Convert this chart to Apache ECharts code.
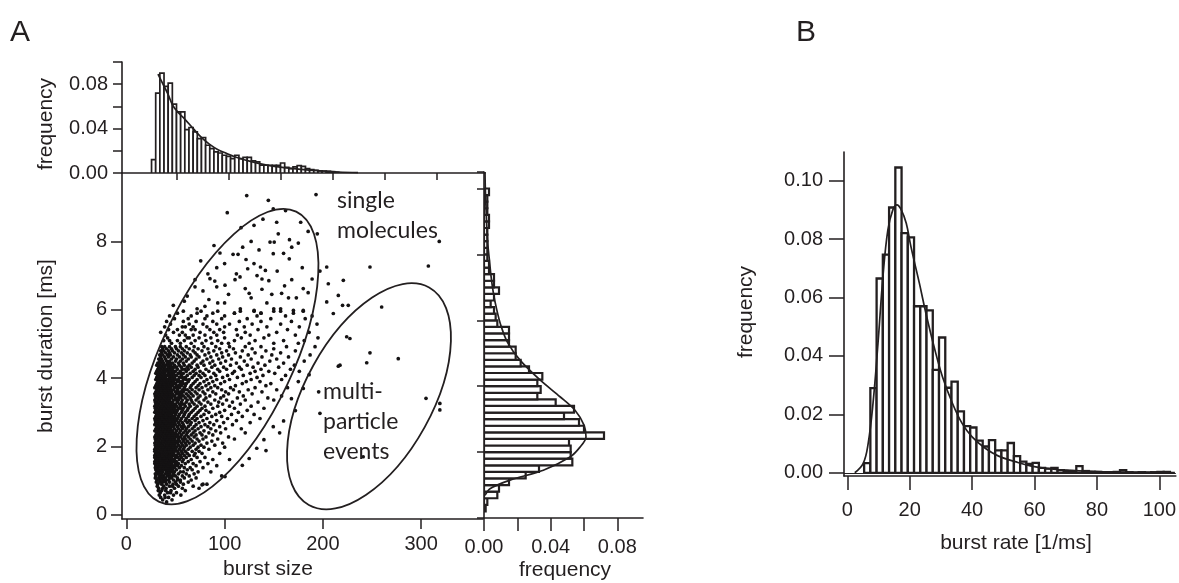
<!DOCTYPE html>
<html><head><meta charset="utf-8">
<script src="https://cdn.jsdelivr.net/npm/echarts@6/dist/echarts.min.js"></script>
<style>html,body{margin:0;padding:0;background:#fff}#c{width:1179px;height:583px}</style>
</head><body><div id="c"></div><script>
// ---------- DATA ----------
// Panel A, top: burst size histogram (bin centers, width 4)
const sizeBinCenters = [28,32,36,40,44,48,52,56,60,64,68,72,76,80,84,88,92,96,100,104,108,112,116,120,124,128,132,136,140,144,148,152,156,160,164,168,172,176,180,184,188,192,196,200,204];
const sizeBinWidth = 4;
const sizeFreq = [0.012,0.072,0.090,0.078,0.081,0.062,0.055,0.055,0.039,0.041,0.037,0.031,0.032,0.025,0.022,0.019,0.018,0.016,0.015,0.013,0.016,0.013,0.014,0.014,0.011,0.010,0.007,0.007,0.007,0.007,0.007,0.009,0.005,0.004,0.0055,0.0066,0.006,0.004,0.003,0.0025,0.002,0.0018,0.0015,0.0012,0.0006];
const sizeFit = [[32.2,0.0891],[37,0.0801],[41.8,0.0711],[46.6,0.0606],[53,0.0531],[57.9,0.0486],[65.9,0.0402],[73.9,0.0321],[81.9,0.0258],[89.9,0.021],[97.9,0.0177],[105.9,0.0147],[121.9,0.0102],[138,0.0069],[154,0.0048],[170,0.0033],[186,0.0021],[205.3,0.0009],[224.5,0.0003]];

// Panel A, right: burst duration histogram (bin centers in ms, width 0.2)
const durBinCenters = [0.3,0.5,0.7,0.9,1.1,1.3,1.5,1.7,1.9,2.1,2.3,2.5,2.7,2.9,3.1,3.3,3.5,3.7,3.9,4.1,4.3,4.5,4.7,4.9,5.1,5.3,5.5,5.7,5.9,6.1,6.3,6.5,6.7,6.9,7.1,7.3,7.5,7.7,7.9,8.1,8.3,8.5,8.7,8.9,9.1,9.3,9.5,9.7,9.9];
const durBinWidth = 0.2;
const durFreq = [0.001,0.002,0.008,0.009,0.015,0.025,0.033,0.053,0.052,0.052,0.051,0.072,0.060,0.057,0.048,0.054,0.043,0.032,0.034,0.032,0.035,0.027,0.022,0.019,0.019,0.015,0.015,0.015,0.008,0.007,0.006,0.004,0.006,0.009,0.006,0.006,0.003,0.003,0.002,0.002,0.002,0.002,0.002,0.003,0.003,0.002,0.002,0.002,0.003];
const durFit = [[0.0006,0.69],[0.0036,0.89],[0.0156,1.15],[0.0356,1.45],[0.0516,1.85],[0.0576,2.15],[0.0612,2.46],[0.060,2.82],[0.0546,3.27],[0.0456,3.68],[0.0336,4.19],[0.0216,4.79],[0.0142,5.32],[0.0102,5.83],[0.0076,6.33],[0.0056,6.84],[0.0042,7.35],[0.0032,7.85],[0.0022,8.36],[0.0014,9.17],[0.0008,9.98],[0.0006,10.5]];

// Panel B: burst rate histogram (bin centers, width 2)
const rateBinCenters = [6.4,8.4,10.4,12.4,14.4,16.4,18.4,20.4,22.4,24.4,26.4,28.4,30.4,32.4,34.4,36.4,38.4,40.4,42.4,44.4,46.4,48.4,50.4,52.4,54.4,56.4,58.4,60.4,62.4,64.4,66.4,68.4,70.4,72.4,74.4,76.4,78.4,80.4,82.4,84.4,86.4,88.4,90.4,92.4,94.4,96.4,98.4,100.4,102.4];
const rateBinWidth = 2;
const rateFreq = [0.0033,0.029,0.0665,0.0747,0.0908,0.1045,0.082,0.0806,0.057,0.057,0.0556,0.0352,0.0463,0.0291,0.0312,0.021,0.016,0.0155,0.011,0.009,0.0112,0.0077,0.0077,0.0102,0.0057,0.0038,0.003,0.0034,0.0017,0.0014,0.0017,0.0009,0.0006,0.0005,0.0023,0.0006,0.0003,0.0003,0.0002,0.0002,0.0003,0.0009,0.0002,0.0001,0.0002,0.0001,0.0002,0.0003,0.0003];
const rateFit = [[2.4,0],[5.1,0.0032],[6.7,0.0101],[8.25,0.0238],[9.84,0.0443],[11.43,0.0671],[13,0.0831],[14.6,0.09],[15.9,0.0917],[17.3,0.09],[18.9,0.0854],[20.4,0.0774],[23.1,0.0649],[25.2,0.0546],[27.8,0.0432],[30.5,0.0329],[33.7,0.0238],[36.8,0.0169],[40,0.0123],[44.2,0.0084],[48.5,0.0057],[53.8,0.0038],[59,0.0023],[65.4,0.0013],[72,0.0008],[80,0.0004],[90,0.0002],[105,0.0001]];

// Panel A scatter: rows of [burst duration, burst sizes...]
const scatterRows = [
[0.38,41],[0.44,37,46.5],[0.51,35,43,39.5],[0.58,39,48,55.5,33.5],[0.65,34.5,42,51,45],[0.71,36,45.5,60,40,32.5],
[0.78,33,40.5,49,57,74,37],[0.84,38,44,53,68,31.5,47],[0.9,32,36,47.5,58,78,41,51],[0.96,34,40,50,63,30.5,44,37,55],
[1.02,31,37,43,48,55,66,34,40,52],[1.08,33,35.5,40,46,52,59,71,29.5,38,44],[1.14,30,34,38,42,45,50,57,64,97,36,47],
[1.2,32,36,39.5,44,48,53,61,69,29.5,41,34],[1.26,31,33,37,41,46,49,55,58,73,86,35,43.5],[1.32,30,34.5,36,40,43,47,51,62,67,32,38,45],
[1.38,32,35,38,42,45,49,54,59,65,78,29.5,40.5,47],[1.44,30,33,37,40,44,47,52,56,71,92,35,42,49.5],[1.5,31,34,36,39,42,46,50,53,60,68,83,29,44,38],
[1.56,29,33,35,38,41,44,48,51,57,63,75,31,46,40],[1.62,30,32,36,39,43,45,49,54,58,66,88,105,34,41,47],[1.68,31,34,37,40,42,46,50,52.5,56,61,72,80,29,44,38.5],
[1.74,29,32,35,38,41,44,47,51,55,59,64,69,33,36.5,49],[1.8,30,33,36,39,43,45,48,53,57,62,70,77,95,31.5,41,46.5],[1.86,31,34,37,40,42,46,49,52,56,60,67,74,29,35.5,44],
[1.92,29,32,35,38,41,44,47,50,54,58,63,71,84,30.5,39.5,45.5],[1.98,30,33,36,39,42,45,48,51,55,59,65,73,79,100,31.5,37.5,43.5],[2.04,31,34,37,40,43,46,49,53,57,61,68,76,90,29.5,35.5,41.5,47.5],
[2.1,29,32,35,38,41,44,47,50,52,56,60,64,70,82,98,33.5,45.5],[2.16,30,33,36,39,42,45,48,51,54,58,62,67,74,87,31.5,37.5,43.5],[2.22,31,34,37,40,43,46,49,53,57,60,65,72,78,93,110,29.5,41.5,47.5],
[2.28,29,32,35,38,41,44,47,50,55,59,63,69,81,104,33.5,39.5,52.5],[2.34,30,33,36,39,42,45,48,52,56,61,66,71,77,88,31.5,43.5,50],[2.4,31,34,37,40,43,46,50,54,58,62,68,75,84,96,121,35.5,41.5,47.5],
[2.46,29,32,35,38,41,44,47,51,55,60,64,70,79,91,30.5,39.5,45.5],[2.52,30,33,36,39,42,45,49,53,57,61,67,73,86,101,117,31.5,37.5,43.5],[2.58,31,34,37,40,43,46,48,52,56,59,63,69,76,83,95,32.5,44.5],
[2.64,29,32,35,38,41,44,47,50,54,58,65,71,80,89,108,30.5,36.5,42.5],[2.7,30,33,36,39,42,45,49,53,57,62,66,74,85,99,126,34.5,40.5,47],[2.76,31,34,37,40,43,46,48,51,55,60,64,70,78,92,112,29.5,38.5,44.5],
[2.82,29,32,35,38,41,44,47,52,56,61,67,72,82,103,136,30.5,36.5,49.5],[2.88,30,33,36,39,42,45,49,53,58,63,69,76,87,97,118,31.5,40.5,47],[2.94,31,34,37,40,43,46,50,54,59,64,71,79,91,107,130,35.5,44.5],
[3.0,29,32,35,38,41,44,48,51,56,60,66,73,84,95,114,30.5,37.5,46],[3.06,30,33,36,39,42,45,47,52,57,62,68,75,81,100,123,34.5,40.5,49.5],[3.12,31,34,37,40,43,46,49,53,58,63,70,77,88,110,140,29.5,38.5,55],
[3.18,29,32,35,38,41,44,48,51,55,60,65,72,80,93,105,127,36.5,46.5],[3.24,30,33,36,39,42,45,50,54,59,64,69,76,86,98,116,31.5,47.5,57],[3.3,31,34,37,40,43,47,52,56,61,67,74,83,94,108,134,29.5,38.5,44.5],
[3.36,29,32,35,38,41,44,48,53,57,62,66,71,79,90,102,121,150,36.5,50.5],[3.42,30,33,36,39,42,46,50,55,60,65,73,81,96,113,144,34.5,44,52.5],[3.48,31,34,37,40,43,45,49,54,58,63,68,75,85,99,119,158,29.5,47,56],
[3.54,29,32,35,38,41,44,47,51,56,61,66,72,80,91,104,128,36.5,53],[3.6,30,33,36,39,42,46,50,53,58,64,70,78,88,101,115,138,44,55.5],[3.66,31,34,37,40,43,48,52,57,62,67,74,83,97,109,124,153,35.5,45.5,59.5],
[3.72,29,32,35,38,41,45,49,54,59,65,71,77,86,93,106,131,164,43,51.5],[3.78,30,33,36,39,42,44,47,51,56,60,66,73,81,90,111,142,34.5,53.5],[3.84,31,34,37,40,43,46,50,55,61,68,75,84,96,118,147,38.5,48,58],
[3.9,32,35,38,41,45,48,52,57,63,70,79,88,100,122,136,43,54.5],[3.96,30,33,36,39,42,47,53,58,64,72,82,92,105,127,158,44.5,50,61],[4.02,31,34,37,40,44,49,54,60,67,76,86,98,113,133,46.5,57],
[4.08,32,35,38,41,46,51,56,62,69,74,80,91,103,119,139,162,43.5,48.5],[4.14,30,33,36,39,43,48,53,58,65,71,78,89,108,126,151,45.5,55.5],[4.2,31,34,37,42,45,50,55,61,68,75,84,95,110,131,145,176,39.5,47.5],
[4.26,32,35,38,41,44,47,52,57,63,70,81,93,102,117,137,167,59.5],[4.32,33,36,39,43,46,51,56,62,66,73,87,99,115,129,155,48.5],[4.38,31,34,37,40,45,49,54,59,64,72,79,90,106,123,141,171,42.5],
[4.44,32,35,38,42,47,53,58,67,76,85,96,112,134,160,44.5],[4.5,34,37,41,44,50,55,61,69,78,88,101,120,146,181],[4.56,33,36,40,46,51,57,63,71,82,94,107,127,153],
[4.62,35,39,43,48,54,60,66,74,86,98,116,138,165],[4.68,34,37,42,45,52,58,65,72,80,92,104,124,148,187],[4.74,36,40,44,49,56,62,70,84,97,111,131,157],
[4.8,35,38,43,47,53,59,68,77,89,102,118,142,172],[4.86,37,41,46,51,57,64,73,83,95,109,128,150],[4.92,36,39,44,50,55,61,69,79,91,105,121,137,163,192],
[5.02,46,77,97,104,125,150,175,55,66,87],[5.1,38,52,59,70,81,93,110,131,160,181,44],[5.18,42,62,74,86,100,117,140,64,195],
[5.26,40,54,68,80,92,113,126,145,172,60],[5.34,48,57,75,89,99,121,153,186,35],[5.42,43,52,70,85,95,112,134,164,66],
[5.5,39,57,68,82,100,120,143,176,60],[5.58,45,64,78,92,105,128,157,194],[5.66,41,58,71,88,115,137,168],
[5.74,49,63,80,97,123,147,182],[5.82,44,66,82,100,133,162,189],[5.9,52,72,88,110,137,170],[5.96,58,76,93,116,130,150,157,180]
];
const scatterExtra = [
[122.5,9.34],[144.5,9.2],[193,9.37],[102.7,8.84],[149.5,8.95],[153,8.56],[177.4,8.56],[185,8.29],[194.3,8.22],[154.6,8.22],[129.9,8.47],[116.7,8.4],
[146.2,7.98],[150.5,7.98],[166,8.05],[168.3,7.83],[118.4,7.83],[89.2,7.88],[95.3,7.66],[108.6,7.62],[113.7,7.62],[149.5,7.64],[75.7,7.43],[92,7.23],
[121.8,7.47],[129.9,7.35],[165.8,7.49],[179,7.23],[123.5,7.2],[136.5,7.25],[141.5,7.15],[153.5,7.13],[203.9,7.25],[247.9,7.25],[307.3,7.28],[318.4,8.0],
[69.9,6.88],[85.1,6.91],[90,6.84],[100.4,6.72],[110.6,6.88],[115.7,6.96],[133,7.0],[138,6.9],[145,6.85],[168.3,6.88],[197,7.13],[205.5,6.76],[220.8,6.86],
[121,6.62],[125,6.48],[127,6.35],[180,6.62],[92,6.67],[69.9,6.67],[148,6.45],[158,6.48],[165,6.35],[173,6.35],[215.7,6.42],[185,6.5],[203.9,6.23],
[220,6.13],[225.8,6.13],[259.8,6.08],[47.8,6.13],[72,6.03],[80,6.1],[93,6.2],[100,6.2],[110,5.9],[116,6.03],[130,5.98],[137,5.9],[150,6.03],[157,6.03],
[170,5.98],[180,5.98],[210.6,5.89],[62,6.4],[78,6.55],[104,6.45],[138,6.6],[112,7.05],[59,6.25],[84,6.3],[143,6.2],[161,6.7],[189,6.9],[100,7.35],
[83,7.05],[160,7.65],[135,7.75],[127,8.0],[175,7.95],[139,8.65],[162,8.9],
[195.7,3.6],[197,2.97],[241,1.7],[304.9,3.41],[319,3.26],[319,3.07],[224.2,5.21],[227.5,5.16],[247.9,4.74],[276.7,4.57],[217.4,4.38],[244.6,4.45],
[215.7,4.35],[132.7,1.95],[142.1,1.88],[100.4,1.12],[149.5,2.58],[168,3.4],[175,3.9],[180,3.7],[186,4.1],[172,3.05],[160,2.75],[156,2.4],[140,2.2],
[125,1.65],[118,1.45],[82,0.9],[77,0.88]
];
// Ellipses in data units: centre, tip of one semi-axis, tip of the other
const ellipseSingle = [[102.9,4.63],[172.8,8.87],[163.7,3.81]];
const ellipseMulti = [[246.9,3.47],[308.1,6.65],[303.6,2.57]];

// Tick values
const sizeTicks = [0,100,200,300];
const sizeTopTicks = [50,100,150,200,250,300];
const durTicks = [0,2,4,6,8];
const rateTicks = [0,20,40,60,80,100];
const rateFreqTicks = [0,0.02,0.04,0.06,0.08,0.10];

// ---------- CHART ----------
const INK = '#231f20';
const FONT = '"Liberation Sans", Arial, Helvetica, sans-serif';
const chart = echarts.init(document.getElementById('c'), null, {renderer:'canvas'});

const scatterPts = [];
scatterRows.forEach(r => { for (let i = 1; i < r.length; i++) scatterPts.push([r[i], r[0]]); });
scatterExtra.forEach(p => scatterPts.push(p));

function histSeries(xi, yi, centers, w, freqs, horizontal, lw) {
  return {
    type:'custom', xAxisIndex:xi, yAxisIndex:yi, clip:true, silent:true,
    data: centers.map((c,i)=>[c, w, freqs[i]]),
    renderItem: function(params, api){
      const c = api.value(0), ww = api.value(1), f = api.value(2);
      let p0, p1;
      if (!horizontal) { p0 = api.coord([c-ww/2, 0]); p1 = api.coord([c+ww/2, f]); }
      else { p0 = api.coord([0, c-ww/2]); p1 = api.coord([f, c+ww/2]); }
      return {type:'rect', shape:{x:Math.min(p0[0],p1[0]), y:Math.min(p0[1],p1[1]), width:Math.abs(p1[0]-p0[0]), height:Math.abs(p1[1]-p0[1])},
        style:{fill:'#fff', stroke:INK, lineWidth:lw}};
    }
  };
}
function lineSeries(xi, yi, data, extra) {
  return Object.assign({type:'line', xAxisIndex:xi, yAxisIndex:yi, data:data, symbol:'none', smooth:0.4, silent:true,
    lineStyle:{color:INK, width:1.7}, z:5}, extra||{});
}
const axLine = {show:true, onZero:false, lineStyle:{color:INK, width:1.6}};
const lbl = {color:INK, fontFamily:FONT, fontSize:20};

const option = {
  animation:false,
  backgroundColor:'#fff',
  grid:[
    {left:122, top:62, width:363, height:111},
    {left:122, top:173, width:361, height:346},
    {left:484, top:172, width:159, height:346},
    {left:844, top:152, width:335, height:324}
  ],
  xAxis:[
    {gridIndex:0, type:'value', min:-2.4, max:346.6, axisLine:axLine, splitLine:{show:false},
      axisTick:{show:true, length:7, customValues:sizeTopTicks, lineStyle:{color:INK,width:1.5}}, axisLabel:{show:false}},
    {gridIndex:1, type:'value', min:-4.4, max:362.9, axisLine:axLine, splitLine:{show:false},
      axisTick:{show:true, length:10, customValues:sizeTicks, lineStyle:{color:INK,width:1.5}},
      axisLabel:Object.assign({customValues:sizeTicks, margin:15}, lbl)},
    {gridIndex:2, type:'value', min:0, max:0.0954, interval:0.02, axisLine:axLine, splitLine:{show:false},
      axisTick:{show:true, length:13, lineStyle:{color:INK,width:1.5}},
      axisLabel:Object.assign({margin:19, showMaxLabel:false, formatter:v => (Math.round(v*100)%4===0 ? v.toFixed(2) : '')}, lbl)},
    {gridIndex:3, type:'value', min:-1.05, max:105.3, axisLine:axLine, splitLine:{show:false},
      axisTick:{show:true, length:14, customValues:rateTicks, lineStyle:{color:INK,width:1.5}},
      axisLabel:Object.assign({customValues:rateTicks, margin:24}, lbl)}
  ],
  yAxis:[
    {gridIndex:0, type:'value', min:0, max:0.1, interval:0.02, axisLine:axLine, splitLine:{show:false},
      axisTick:{show:true, length:9, lineStyle:{color:INK,width:1.5}},
      axisLabel:Object.assign({margin:14, formatter:v => (Math.round(v*100)%4===0 && v<0.09 ? v.toFixed(2) : '')}, lbl)},
    {gridIndex:1, type:'value', min:-0.12, max:10, axisLine:axLine, splitLine:{show:false},
      axisTick:{show:true, length:11, customValues:durTicks, lineStyle:{color:INK,width:1.5}},
      axisLabel:Object.assign({customValues:durTicks, margin:15}, lbl)},
    {gridIndex:2, type:'value', min:0, max:10.5, interval:2, axisLine:axLine, splitLine:{show:false},
      axisTick:{show:true, length:7, lineStyle:{color:INK,width:1.5}}, axisLabel:{show:false}},
    {gridIndex:3, type:'value', min:-0.0011, max:0.1098, axisLine:axLine, splitLine:{show:false},
      axisTick:{show:true, length:15, customValues:rateFreqTicks, lineStyle:{color:INK,width:1.5}},
      axisLabel:Object.assign({customValues:rateFreqTicks, margin:21, formatter:v => v.toFixed(2)}, lbl)}
  ],
  series:[
    histSeries(0,0,sizeBinCenters,sizeBinWidth,sizeFreq,false,1.7),
    lineSeries(0,0,sizeFit),
    {type:'scatter', xAxisIndex:1, yAxisIndex:1, data:scatterPts, symbol:'circle', symbolSize:3.7, silent:true,
      itemStyle:{color:'#141213', opacity:1}, large:false},
    histSeries(2,2,durBinCenters,durBinWidth,durFreq,true,2.2),
    lineSeries(2,2,durFit,{smooth:0.3}),
    Object.assign(histSeries(3,3,rateBinCenters,rateBinWidth,rateFreq,false,2.3),
      {markLine:{silent:true, symbol:'none', label:{show:false}, lineStyle:{color:INK, width:1, type:'solid'}, data:[{yAxis:0}]}}),
    lineSeries(3,3,rateFit)
  ]
};
chart.setOption(option);

function txt(t, x, y, size, opts) {
  return Object.assign({type:'text', x:x, y:y, z:20, silent:true,
    style:Object.assign({text:t, fill:INK, font:size+'px '+FONT, textAlign:'center', textVerticalAlign:'middle', align:'center', verticalAlign:'middle'}, (opts&&opts.style)||{})},
    opts && opts.rotation ? {rotation:opts.rotation} : {});
}
function ell(def) {
  const c = chart.convertToPixel({xAxisIndex:1, yAxisIndex:1}, def[0]);
  const a = chart.convertToPixel({xAxisIndex:1, yAxisIndex:1}, def[1]);
  const b = chart.convertToPixel({xAxisIndex:1, yAxisIndex:1}, def[2]);
  const ax = a[0]-c[0], ay = a[1]-c[1];
  const rx = Math.hypot(ax, ay), ry = Math.hypot(b[0]-c[0], b[1]-c[1]);
  return {type:'ellipse', x:c[0], y:c[1], rotation:Math.atan2(-ay, ax), silent:true, z:15,
    shape:{cx:0, cy:0, rx:rx, ry:ry}, style:{fill:null, stroke:INK, lineWidth:1.8}};
}
const annFont = 'Lato, "Open Sans", sans-serif';
function ann(t, x, y) {
  return {type:'text', x:x, y:y, z:20, silent:true,
    style:{text:t, fill:INK, font:'23px '+annFont, textAlign:'left', textVerticalAlign:'middle', align:'left', verticalAlign:'middle'}};
}
chart.setOption({graphic:{elements:[
  txt('A', 20, 33, 30),
  txt('B', 806, 33, 30),
  txt('frequency', 46, 124, 21, {rotation:Math.PI/2}),
  txt('burst duration [ms]', 46, 346, 21, {rotation:Math.PI/2}),
  txt('burst size', 268, 569, 21),
  txt('frequency', 565, 570, 21),
  txt('frequency', 746, 312, 21, {rotation:Math.PI/2}),
  txt('burst rate [1/ms]', 1016, 543, 21),
  ann('single', 337, 201),
  ann('molecules', 337, 231),
  ann('multi-', 323, 392),
  ann('particle', 323, 422),
  ann('events', 323, 452),
  ell(ellipseSingle),
  ell(ellipseMulti)
]}});
</script></body></html>
